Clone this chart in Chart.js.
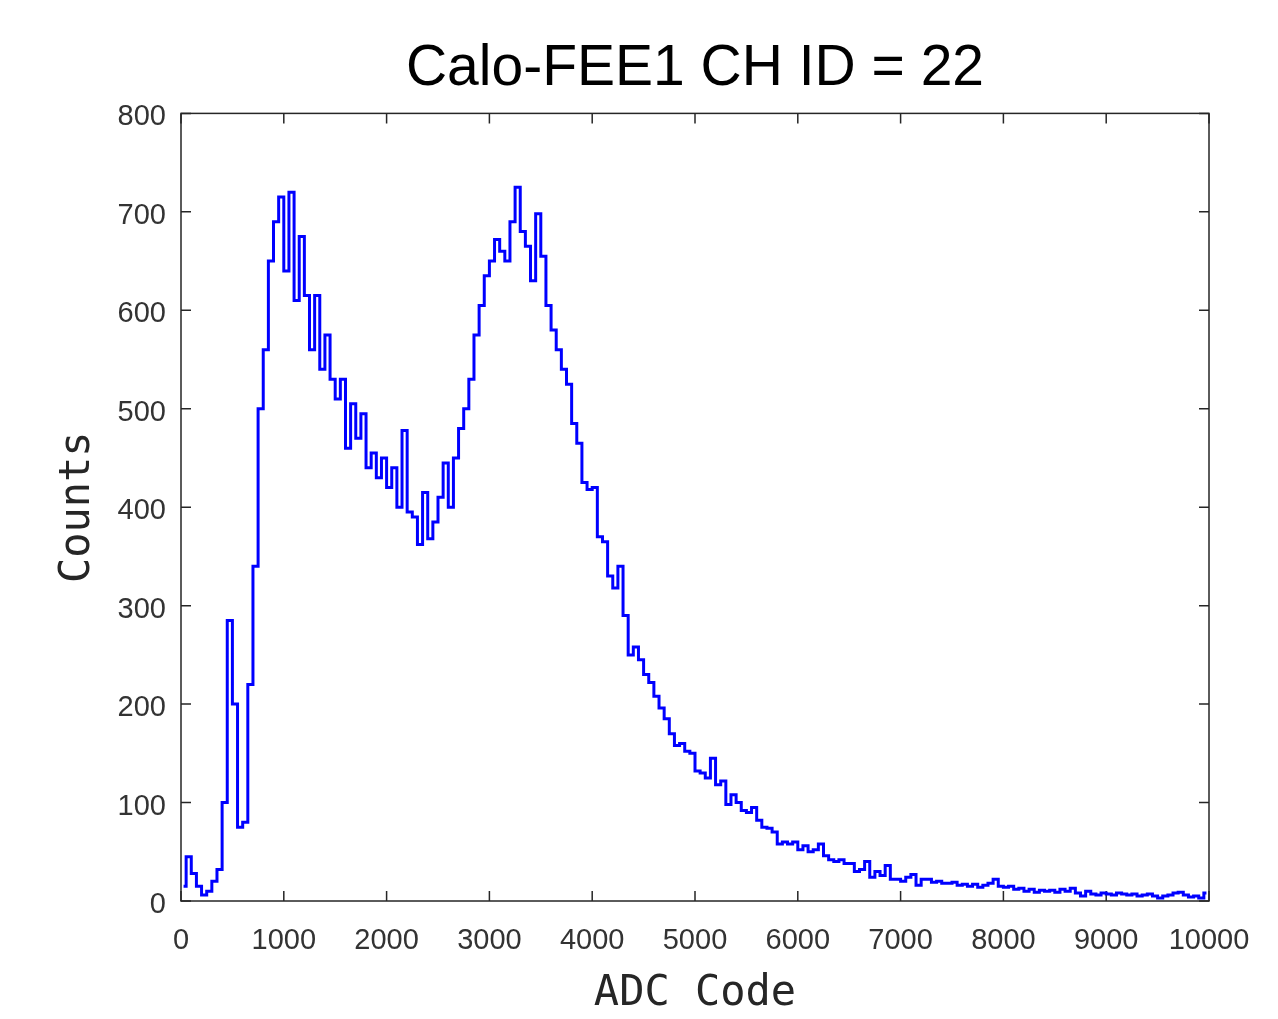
<!DOCTYPE html>
<html>
<head>
<meta charset="utf-8">
<title>Calo-FEE1 CH ID = 22</title>
<script src="https://cdn.jsdelivr.net/npm/chart.js@4.4.1/dist/chart.umd.min.js"></script>
<style>
  html, body { margin: 0; padding: 0; background: #fff; }
  #wrap { width: 1278px; height: 1019px; }
</style>
</head>
<body>
<div id="wrap"><canvas id="histo" width="1278" height="1019"></canvas></div>
<script>
// ---- dados do histograma ----
const titleText = 'Calo-FEE1 CH ID = 22';
const xLabel = 'ADC Code';
const yLabel = 'Counts';
const binWidth = 50;           // largura do bin em ADC
const xTicks = [0, 1000, 2000, 3000, 4000, 5000, 6000, 7000, 8000, 9000, 10000];
const yTicks = [0, 100, 200, 300, 400, 500, 600, 700, 800];

// contagens por bin de 50 ADC (0 .. 10000)
const counts = [
  15, 45, 28, 15, 6, 10, 20, 32, 100, 285,          // 0 - 450
  200, 75, 80, 220, 340, 500, 560, 650, 690, 715,   // 500 - 950
  640, 720, 610, 675, 615, 560, 615, 540, 575, 530, // 1000 - 1450
  510, 530, 460, 505, 470, 495, 440, 455, 430, 450, // 1500 - 1950
  420, 440, 400, 478, 395, 390, 362, 415, 368, 385, // 2000 - 2450
  410, 445, 400, 450, 480, 500, 530, 575, 605, 635, // 2500 - 2950
  650, 672, 660, 650, 690, 725, 680, 665, 630, 698, // 3000 - 3450
  655, 605, 580, 560, 540, 525, 485, 465, 425, 418, // 3500 - 3950
  420, 370, 365, 330, 318, 340, 290, 250, 258, 245, // 4000 - 4450
  230, 222, 208, 196, 185, 170, 158, 160, 152, 150, // 4500 - 4950
  132, 130, 125, 145, 118, 122, 98, 108, 100, 92,   // 5000 - 5450
  90, 95, 82, 75, 74, 70, 58, 60, 58, 60,           // 5500 - 5950
  52, 56, 50, 52, 58, 46, 42, 40, 42, 38,           // 6000 - 6450
  38, 30, 32, 40, 24, 30, 26, 36, 22, 22,           // 6500 - 6950
  20, 24, 27, 16, 22, 22, 19, 20, 18, 18,           // 7000 - 7450
  19, 16, 17, 15, 17, 14, 16, 18, 22, 15,           // 7500 - 7950
  14, 15, 12, 13, 10, 12, 9, 11, 10, 11,            // 8000 - 8450
  9, 12, 10, 13, 8, 5, 10, 7, 6, 8,                 // 8500 - 8950
  7, 6, 8, 7, 6, 7, 5, 6, 7, 5,                     // 9000 - 9450
  3, 5, 6, 8, 9, 6, 4, 5, 3, 8                      // 9500 - 9950
];

// centro de cada bin -> ponto {x, y}
const points = counts.map((c, i) => ({ x: i * binWidth + binWidth / 2, y: c }));

const axisColor = '#262626';
const tickFont = { family: "'Liberation Sans', Arial, sans-serif", size: 29 };
const labelFont = { family: "'DejaVu Sans Mono', monospace", size: 42 };

// moldura + ticks para dentro nos quatro lados (estilo MATLAB)
const boxTicks = {
  id: 'boxTicks',
  beforeDatasetsDraw(chart) {
    const { ctx, chartArea: a, scales } = chart;
    const len = 10;
    ctx.save();
    ctx.strokeStyle = axisColor;
    ctx.lineWidth = 1.5;
    ctx.strokeRect(a.left, a.top, a.right - a.left, a.bottom - a.top);
    ctx.beginPath();
    xTicks.forEach(v => {
      const px = scales.x.getPixelForValue(v);
      ctx.moveTo(px, a.bottom); ctx.lineTo(px, a.bottom - len);
      ctx.moveTo(px, a.top); ctx.lineTo(px, a.top + len);
    });
    yTicks.forEach(v => {
      const py = scales.y.getPixelForValue(v);
      ctx.moveTo(a.left, py); ctx.lineTo(a.left + len, py);
      ctx.moveTo(a.right, py); ctx.lineTo(a.right - len, py);
    });
    ctx.stroke();
    ctx.restore();
  }
};

new Chart(document.getElementById('histo'), {
  type: 'line',
  data: {
    datasets: [{
      data: points,
      borderColor: '#0000ff',
      borderWidth: 3,
      pointRadius: 0,
      stepped: 'middle',
      fill: false
    }]
  },
  options: {
    responsive: false,
    animation: false,
    layout: { padding: { left: 0, right: 69, top: 0, bottom: 0 } },
    plugins: {
      legend: { display: false },
      tooltip: { enabled: false },
      title: {
        display: true,
        text: titleText,
        fullSize: false,
        color: '#000',
        font: { family: "'Liberation Sans', Arial, sans-serif", size: 57, weight: 'normal' },
        padding: { top: 35, bottom: 10 }
      }
    },
    scales: {
      x: {
        type: 'linear',
        min: 0,
        max: 10000,
        grid: { display: false },
        border: { display: false },
        ticks: {
          stepSize: 1000,
          color: '#333',
          font: tickFont,
          padding: 15,
          maxRotation: 0,
          autoSkip: false,
          callback: v => String(v)
        },
        title: {
          display: true,
          text: xLabel,
          color: '#262626',
          font: labelFont,
          padding: { top: 0, bottom: 0 }
        },
        afterFit(scale) { scale.height = 118; }
      },
      y: {
        min: 0,
        max: 800,
        grid: { display: false },
        border: { display: false },
        ticks: {
          stepSize: 100,
          color: '#333',
          font: tickFont,
          padding: 7,
          labelOffset: 4,
          callback: v => String(v)
        },
        title: {
          display: true,
          text: yLabel,
          color: '#262626',
          font: labelFont,
          padding: { top: 53, bottom: 0 }
        },
        afterFit(scale) { scale.width = 181; }
      }
    }
  },
  plugins: [boxTicks]
});
</script>
</body>
</html>
